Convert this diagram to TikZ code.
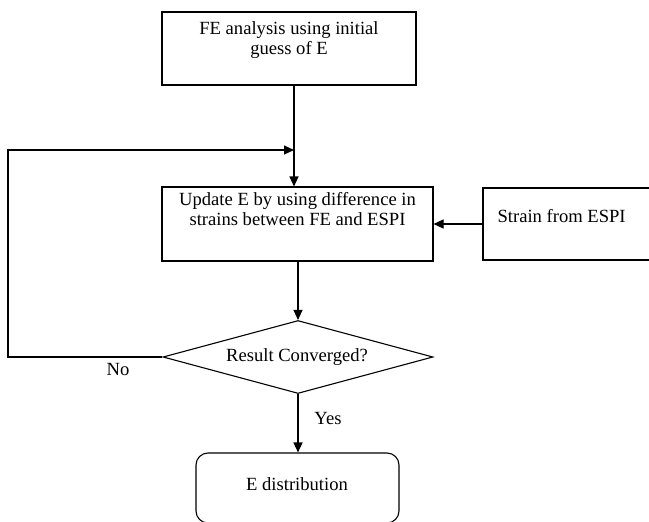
\documentclass[tikz,border=0pt]{standalone}
\usepackage{fontspec}
\setmainfont{Liberation Serif}
\usetikzlibrary{arrows.meta,shapes.geometric,calc}
\begin{document}
\begin{tikzpicture}[x=1pt,y=-1pt,
  line width=1.1pt,
  every node/.style={font=\fontsize{18.6}{20}\selectfont, inner sep=0pt},
  txt/.style={align=center, anchor=north},
  arr/.style={-{Triangle[length=10pt,width=9pt]}}
]
\useasboundingbox (0,0) rectangle (649,522);
% boxes
\node[draw, rectangle, minimum width=254pt, minimum height=73pt] (top) at (289,48.5) {};
\node[draw, rectangle, minimum width=271pt, minimum height=74pt] (upd) at (297.5,224) {};
\node[draw, rectangle, minimum width=180pt, minimum height=72pt] (espi) at (573,224) {};
\node[draw, diamond, aspect=3.7, minimum width=270pt, minimum height=73pt] (conv) at (298,357) {};
\node[draw, rectangle, rounded corners=12pt, minimum width=203pt, minimum height=70pt] (edist) at (297.5,488) {};
% texts
\node[txt] (toptxt) at (289,21) {FE analysis using initial\\guess of E};
\node[txt] (updtxt) at (297.5,192) {Update E by using difference in\\strains between FE and ESPI};
\node[anchor=base west] (espitxt) at (497,222) {Strain from ESPI};
\node[anchor=base] (convtxt) at (297,361) {Result Converged?};
\node[anchor=base] (edtxt) at (297,490) {E distribution};
\node[anchor=base] (no) at (118,375) {No};
\node[anchor=base] (yes) at (328,424) {Yes};
% connectors
\coordinate (loopl) at (8,150);
\coordinate (loopm) at (294,150);
\draw[arr] (top.south -| loopm) -- (upd.north -| loopm);
\draw[arr] (conv.west) -- (conv.west -| loopl) -- (loopl) -- (loopm);
\draw[arr] (espi.west |- upd.east) -- (upd.east);
\draw[arr] (upd.south -| conv.north) -- (conv.north);
\draw[arr] (conv.south) -- (edist.north -| conv.south);
\end{tikzpicture}
\end{document}
